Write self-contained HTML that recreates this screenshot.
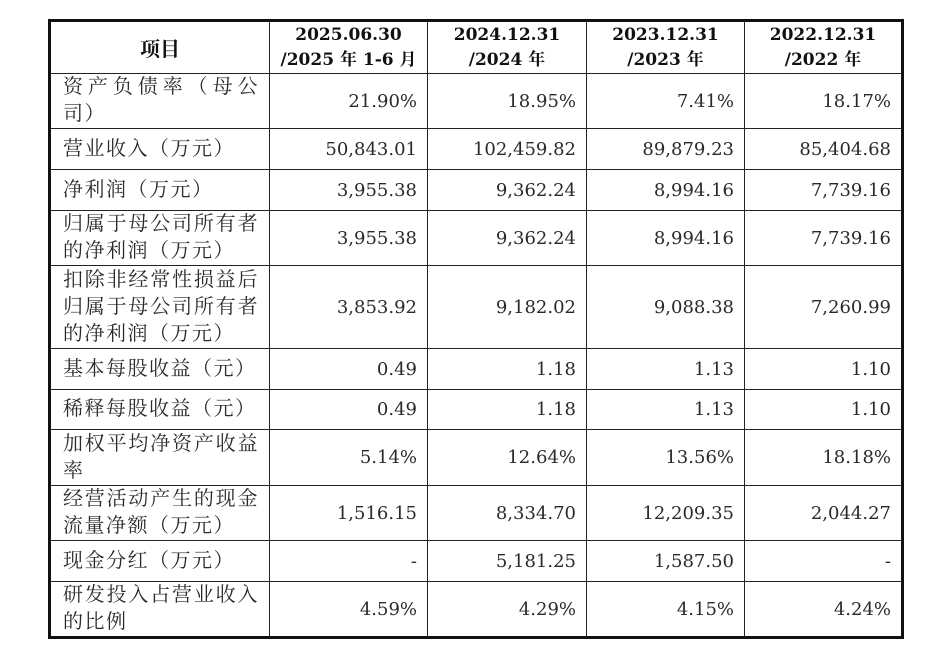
<!DOCTYPE html>
<html><head><meta charset="utf-8"><style>
body{margin:0;background:#fff;width:942px;height:646px;overflow:hidden}
table{position:absolute;left:48px;top:19px;border-collapse:collapse;table-layout:fixed;border:3px solid #111;font-family:"Liberation Serif","Noto Serif CJK SC",serif;color:#2a2a2a}
td{border:1.5px solid #222;padding:0;font-size:19px;line-height:27px}
td.n{text-align:right;padding-right:10px;font-size:18px;font-family:"DejaVu Serif","Noto Serif CJK SC",serif}
td.l{padding-left:12px;padding-right:10px;text-align:justify;text-align-last:left;letter-spacing:1.5px;font-size:20px}
tr.h td{font-weight:bold;text-align:center;font-size:17px;line-height:25px;color:#111;font-family:"DejaVu Serif","Noto Serif CJK SC",serif}
tr.h td.t{font-size:20px;font-family:"Noto Serif CJK SC",serif}
</style></head><body>
<table>
<colgroup><col style="width:220px"><col style="width:158px"><col style="width:159px"><col style="width:158px"><col style="width:158px"></colgroup>
<tr class="h" style="height:53px"><td class="t">项目</td><td>2025.06.30<br>/2025 年 1-6 月</td><td>2024.12.31<br>/2024 年</td><td>2023.12.31<br>/2023 年</td><td>2022.12.31<br>/2022 年</td></tr>
<tr style="height:55px"><td class="l" style="text-align-last:auto">资产负债率（母公司）</td><td class="n">21.90%</td><td class="n">18.95%</td><td class="n">7.41%</td><td class="n">18.17%</td></tr>
<tr style="height:41px"><td class="l">营业收入（万元）</td><td class="n">50,843.01</td><td class="n">102,459.82</td><td class="n">89,879.23</td><td class="n">85,404.68</td></tr>
<tr style="height:41px"><td class="l">净利润（万元）</td><td class="n">3,955.38</td><td class="n">9,362.24</td><td class="n">8,994.16</td><td class="n">7,739.16</td></tr>
<tr style="height:55px"><td class="l">归属于母公司所有者的净利润（万元）</td><td class="n">3,955.38</td><td class="n">9,362.24</td><td class="n">8,994.16</td><td class="n">7,739.16</td></tr>
<tr style="height:83px"><td class="l">扣除非经常性损益后归属于母公司所有者的净利润（万元）</td><td class="n">3,853.92</td><td class="n">9,182.02</td><td class="n">9,088.38</td><td class="n">7,260.99</td></tr>
<tr style="height:41px"><td class="l">基本每股收益（元）</td><td class="n">0.49</td><td class="n">1.18</td><td class="n">1.13</td><td class="n">1.10</td></tr>
<tr style="height:40px"><td class="l">稀释每股收益（元）</td><td class="n">0.49</td><td class="n">1.18</td><td class="n">1.13</td><td class="n">1.10</td></tr>
<tr style="height:56px"><td class="l">加权平均净资产收益率</td><td class="n">5.14%</td><td class="n">12.64%</td><td class="n">13.56%</td><td class="n">18.18%</td></tr>
<tr style="height:55px"><td class="l">经营活动产生的现金流量净额（万元）</td><td class="n">1,516.15</td><td class="n">8,334.70</td><td class="n">12,209.35</td><td class="n">2,044.27</td></tr>
<tr style="height:41px"><td class="l">现金分红（万元）</td><td class="n">-</td><td class="n">5,181.25</td><td class="n">1,587.50</td><td class="n">-</td></tr>
<tr style="height:55px"><td class="l">研发投入占营业收入的比例</td><td class="n">4.59%</td><td class="n">4.29%</td><td class="n">4.15%</td><td class="n">4.24%</td></tr>
</table>
</body></html>
